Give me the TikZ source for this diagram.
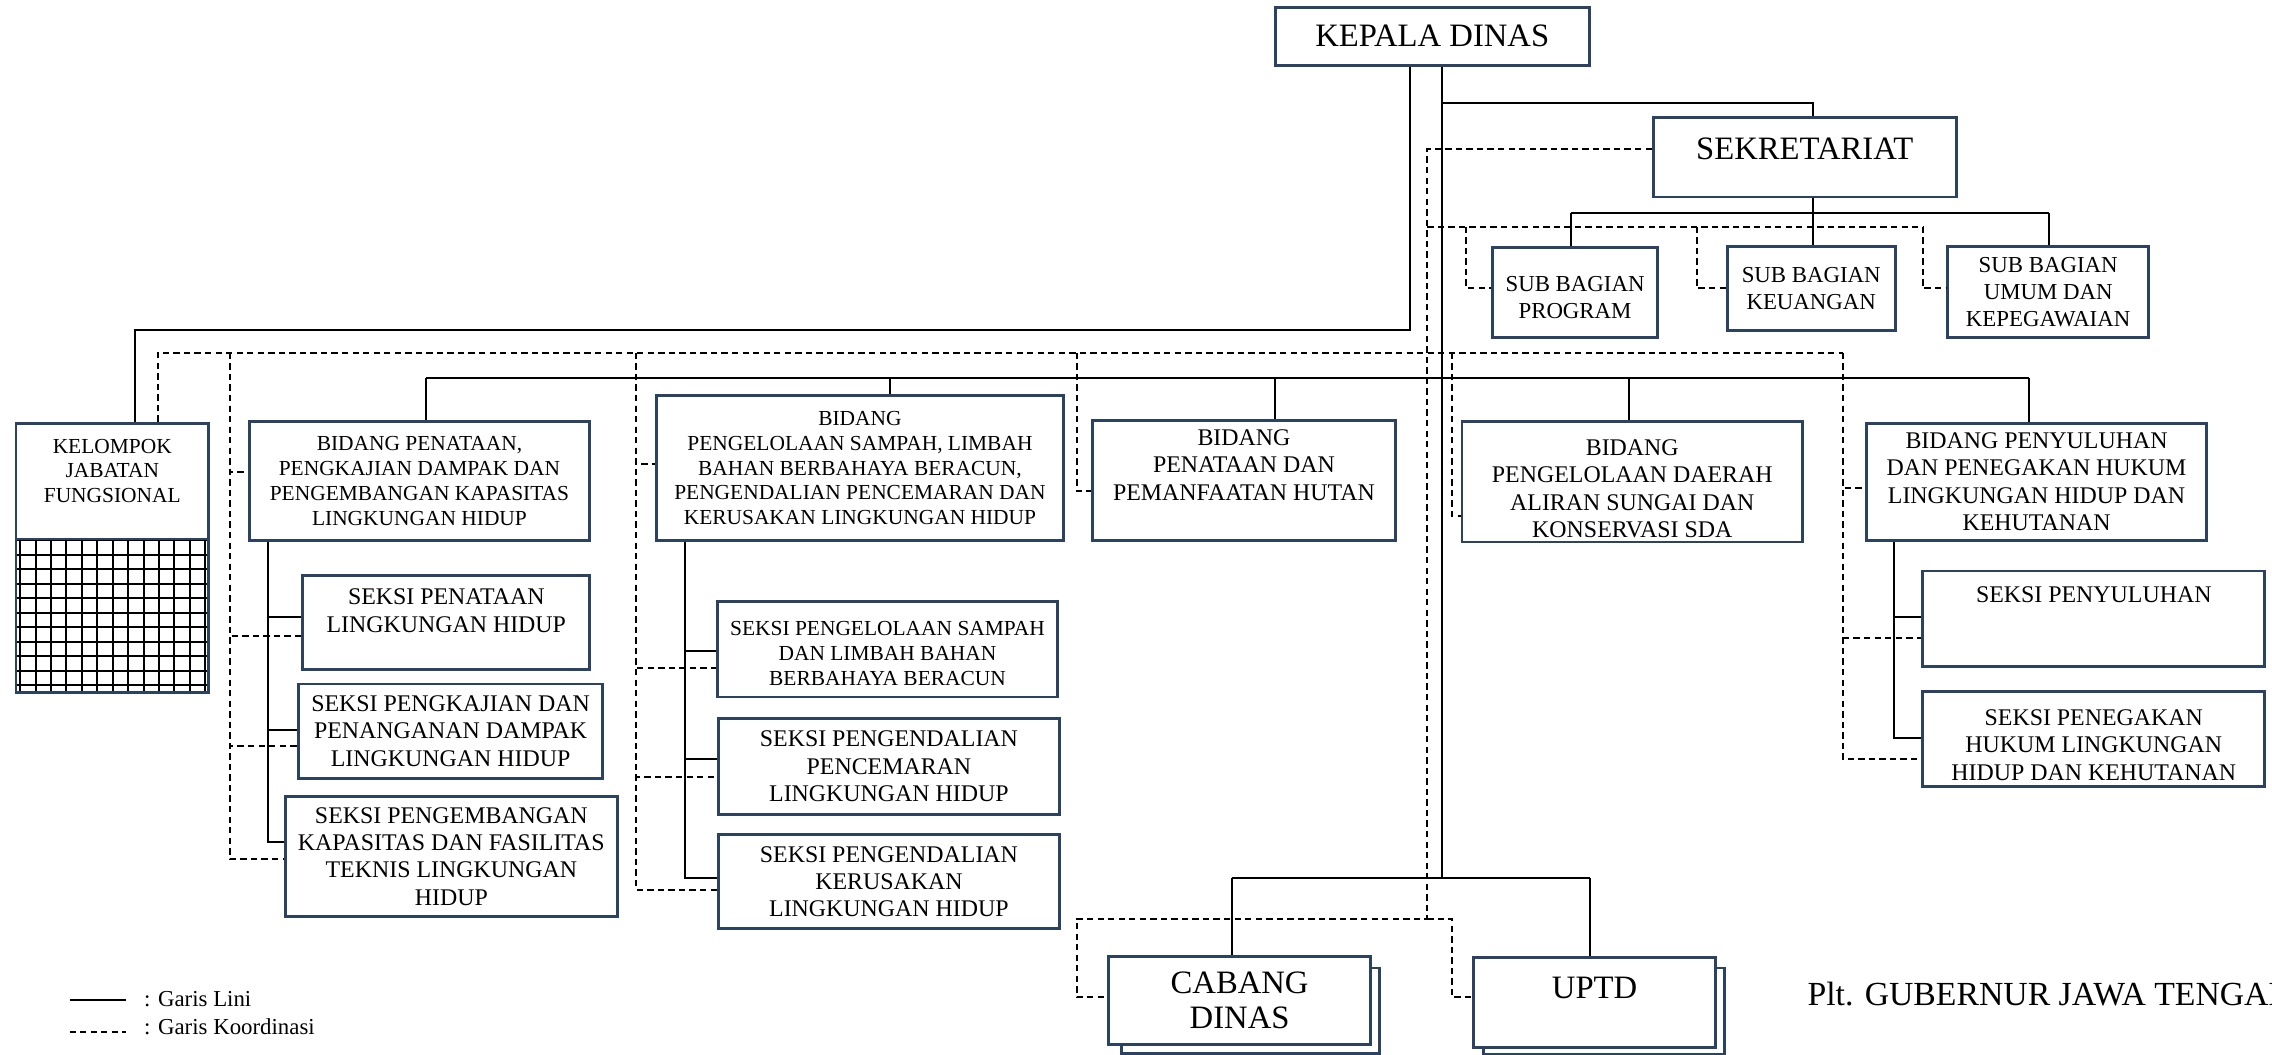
\documentclass[tikz,border=0pt]{standalone}
\usepackage{fontspec}
\setmainfont{Liberation Serif}
\definecolor{boxnavy}{RGB}{44,66,99}
\def\pxu{0.01449cm}
\tikzset{box/.style 2 args={draw=boxnavy, line width=0.8pt, fill=white, align=center,
           inner sep=0pt, minimum width=#1*\pxu, minimum height=#2*\pxu},
         garis/.style={line width=0.55pt},
         koord/.style={line width=0.55pt, dash pattern=on 1.8pt off 1.2pt},
         besar/.style={font=\fontsize{9.3}{10}\selectfont},
         sedang/.style={font=\fontsize{6.8}{7.8}\selectfont},
         kecil/.style={font=\fontsize{6.1}{7.1}\selectfont},
         subbag/.style={font=\fontsize{6.5}{7.7}\selectfont},
         lgd/.style={anchor=base west, inner sep=0pt, font=\fontsize{6.5}{7.7}\selectfont}}

\begin{document}
\begin{tikzpicture}[x=0.01449cm, y=-0.01449cm]
  \useasboundingbox (0,0) rectangle (1568,728);
  % pimpinan dan sekretariat
  \node[box={217}{40}, besar] (kd) at (988.5,25) {KEPALA DINAS};
  \node[box={209}{55}, besar, text depth=4.6pt] (sek) at (1245.5,108.5) {SEKRETARIAT};
  \node[box={114}{62}, subbag, text height=14.5pt, text depth=0pt] (sbProg) at (1087,202) {SUB BAGIAN\\PROGRAM};
  \node[box={116}{58}, subbag] (sbKeu) at (1250,199) {SUB BAGIAN\\KEUANGAN};
  \node[box={139}{63}, subbag] (sbUmum) at (1413.5,201.5) {SUB BAGIAN\\UMUM DAN\\KEPEGAWAIAN};
  % kelompok jabatan fungsional
  \node[box={133}{80}, kecil, text depth=5.8pt] (kel) at (77.5,332) {KELOMPOK\\JABATAN\\FUNGSIONAL};
  \foreach \i in {0,...,12}
    \draw[garis] (13.9+10.65*\i,372) -- (13.9+10.65*\i,478);
  \foreach \j in {0,...,10}
    \draw[garis] (11,373+10*\j) -- (144,373+10*\j);
  \draw[boxnavy, line width=0.8pt] (11,372) rectangle (144,478);
  % bidang
  \node[box={235}{82}, kecil] (bPen) at (289.5,332) {BIDANG PENATAAN,\\PENGKAJIAN DAMPAK DAN\\PENGEMBANGAN KAPASITAS\\LINGKUNGAN HIDUP};
  \node[box={281}{100}, kecil] (bSam) at (593.5,323) {BIDANG\\PENGELOLAAN SAMPAH, LIMBAH\\BAHAN BERBAHAYA BERACUN,\\PENGENDALIAN PENCEMARAN DAN\\KERUSAKAN LINGKUNGAN HIDUP};
  \node[box={209}{83}, sedang, text depth=8.7pt] (bHut) at (858.5,331.5) {BIDANG\\PENATAAN DAN\\PEMANFAATAN HUTAN};
  \node[box={235}{83}, sedang, text height=31.7pt, text depth=0pt] (bDas) at (1126.5,332.5) {BIDANG\\PENGELOLAAN DAERAH\\ALIRAN SUNGAI DAN\\KONSERVASI SDA};
  \node[box={235}{81}, sedang] (bPny) at (1405.5,332.5) {BIDANG PENYULUHAN\\DAN PENEGAKAN HUKUM\\LINGKUNGAN HIDUP DAN\\KEHUTANAN};
  % seksi
  \node[box={198}{65}, sedang, text depth=6.6pt] (sPenLH) at (308,429.5) {SEKSI PENATAAN\\LINGKUNGAN HIDUP};
  \node[box={210}{65}, sedang] (sPengk) at (311,504.5) {SEKSI PENGKAJIAN DAN\\PENANGANAN DAMPAK\\LINGKUNGAN HIDUP};
  \node[box={229}{83}, sedang] (sPengem) at (311.5,591) {SEKSI PENGEMBANGAN\\KAPASITAS DAN FASILITAS\\TEKNIS LINGKUNGAN\\HIDUP};
  \node[box={235}{66}, kecil, text height=20.7pt, text depth=0pt] (sSam) at (612.5,448) {SEKSI PENGELOLAAN SAMPAH\\DAN LIMBAH BAHAN\\BERBAHAYA BERACUN};
  \node[box={235}{66}, sedang] (sPenc) at (613.5,529) {SEKSI PENGENDALIAN\\PENCEMARAN\\LINGKUNGAN HIDUP};
  \node[box={235}{65}, sedang] (sKer) at (613.5,608.5) {SEKSI PENGENDALIAN\\KERUSAKAN\\LINGKUNGAN HIDUP};
  \node[box={236}{66}, sedang, text depth=14pt] (sPny) at (1445,427) {SEKSI PENYULUHAN};
  \node[box={236}{66}, sedang, text height=23.4pt, text depth=0pt] (sPng) at (1445,510) {SEKSI PENEGAKAN\\HUKUM LINGKUNGAN\\HIDUP DAN KEHUTANAN};
  % cabang dinas dan uptd
  \node[box={178}{59}] (cabS) at (863,697.5) {};
  \node[box={181}{61}, besar] (cab) at (855.5,690.5) {CABANG\\DINAS};
  \node[box={166}{60}] (uptdS) at (1107,698) {};
  \node[box={167}{62}, besar, text depth=8.3pt] (uptd) at (1100.5,692) {UPTD};
  % titik simpul
  \coordinate (kdA) at (973,228);
  \coordinate (kelA) at (93,228);
  \coordinate (trunk) at (995,606);
  \coordinate (sekA) at (995,71);
  \coordinate (sekB) at (1251,71);
  \coordinate (subA) at (1084,147);
  \coordinate (subB) at (1251,147);
  \coordinate (subC) at (1414,147);
  \coordinate (cabA) at (850,606);
  \coordinate (uptdA) at (1097,606);
  \coordinate (dA) at (985,103);
  \coordinate (dB) at (985,634);
  \coordinate (dC) at (743,688);
  \coordinate (dD) at (1002,688);
  \coordinate (dS) at (985,156.5);
  \coordinate (dK) at (109,243.5);
  \coordinate (dP) at (1272,243.5);
  % garis lini
  \draw[garis] (kd.south -| kdA) -- (kdA) -- (kelA) -- (kel.north -| kelA);
  \draw[garis] (kd.south -| trunk) -- (trunk);
  \draw[garis] (sekA) -- (sekB) -- (sek.north -| sekB);
  \draw[garis] (sek.south -| subB) -- (subB);
  \draw[garis] (subA) -- (subC);
  \foreach \c/\n in {subA/sbProg, subB/sbKeu, subC/sbUmum}
    \draw[garis] (\c) -- (\n.north -| \c);
  \draw[garis] (294,261) -- (1400,261);
  \foreach \x/\n in {294/bPen, 614/bSam, 880/bHut, 1124/bDas, 1400/bPny}
    \draw[garis] (\x,261) -- (\n.north -| \x,0);
  \foreach \x/\b/\n/\y in {185/bPen/sPenLH/426, 185/bPen/sPengk/504, 185/bPen/sPengem/581,
      473/bSam/sSam/449, 473/bSam/sPenc/524, 473/bSam/sKer/606,
      1307/bPny/sPny/426, 1307/bPny/sPng/509}
    \draw[garis] (\b.south -| \x,0) |- (\n.west |- 0,\y);
  \draw[garis] (cabA) -- (uptdA);
  \draw[garis] (cabA) -- (cab.north -| cabA);
  \draw[garis] (uptdA) -- (uptd.north -| uptdA);
  % garis koordinasi
  \draw[koord] (sek.west |- dA) -- (dA) -- (dB) -| (dC) -- (cab.west |- dC);
  \draw[koord] (dB) -| (dD) -- (uptd.west |- dD);
  \draw[koord] (dS) -- (1327,156.5);
  \foreach \x/\n in {1012/sbProg, 1171/sbKeu, 1327/sbUmum}
    \draw[koord] (\x,156.5) |- (\n.west |- 0,199);
  \draw[koord] (kel.north -| dK) -- (dK) -- (dP);
  \foreach \x/\n/\y in {159/bPen/326, 159/sPenLH/439, 159/sPengk/515, 159/sPengem/593,
      439/bSam/320, 439/sSam/461, 439/sPenc/536, 439/sKer/614,
      743/bHut/339, 1002/bDas/356,
      1272/bPny/337, 1272/sPny/440, 1272/sPng/524}
    \draw[koord] (\x,243.5) |- (\n.west |- 0,\y);
  % keterangan
  \draw[garis] (48,690) -- (87,690);
  \draw[koord] (48,712) -- (87,712);
  \node[lgd] (lgLini) at (99,694.7) {: Garis Lini};
  \node[lgd] (lgKoord) at (99,714) {: Garis Koordinasi};
  \node[anchor=base west, inner sep=0pt, font=\fontsize{9.6}{11}\selectfont] (plt) at (1247,693.6) {Plt. GUBERNUR JAWA TENGAH};
\end{tikzpicture}
\end{document}
